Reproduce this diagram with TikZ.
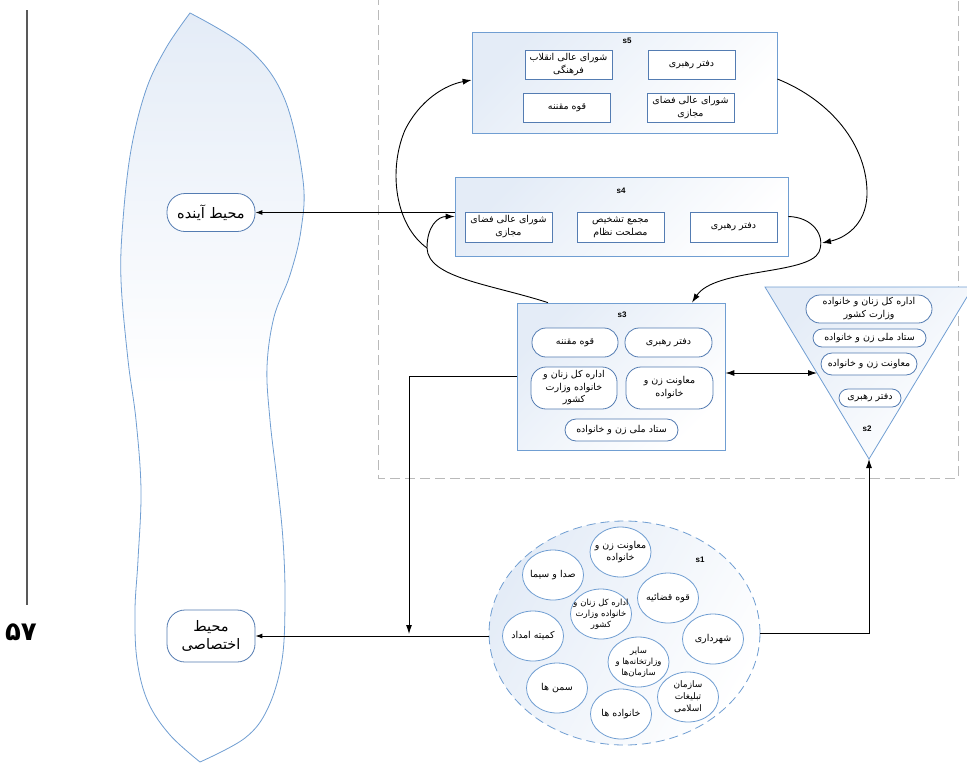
\documentclass[tikz,border=0pt]{standalone}
\usepackage{fontspec}
\usetikzlibrary{arrows.meta,shapes.geometric,calc}
\TeXXeTstate=1
\newfontfamily\fa[Script=Arabic]{DejaVu Sans}
\newfontfamily\lat{Liberation Sans}
\newcommand\ft[1]{{\fa\beginR #1\endR}}
\definecolor{bd}{RGB}{112,158,210}
\definecolor{ib}{RGB}{84,124,178}
\definecolor{gb}{RGB}{228,236,247}
\definecolor{dg}{RGB}{185,185,185}
\tikzset{
  grp/.style={draw=bd, line width=0.8pt, top color=gb, bottom color=white, shading angle=45, inner sep=0pt},
  lbl/.style={font=\lat\bfseries\fontsize{8}{9}\selectfont, inner sep=0pt},
  sq/.style={draw=ib, line width=0.8pt, fill=white, inner sep=0.5pt, align=center,
    font=\fontsize{9.5}{13}\selectfont, minimum width=87pt, minimum height=29pt},
  pill/.style={draw=ib, line width=0.8pt, fill=white, inner sep=0.5pt, align=center,
    font=\fontsize{9.5}{13}\selectfont, rounded corners=#1},
  circ/.style={ellipse, draw=bd, line width=0.8pt, fill=white, inner xsep=-10pt, inner ysep=-8pt, align=center,
    font=\fontsize{9.5}{11.5}\selectfont, minimum width=61pt, minimum height=50pt},
  envn/.style={draw=ib, line width=0.8pt, fill=white, inner sep=1pt, align=center,
    font=\fontsize{14.5}{18}\selectfont, rounded corners=18pt, minimum width=88pt},
  arr/.style={line width=0.9pt, -{Latex[length=9pt,width=6pt]}},
  sarr/.style={line width=0.9pt, -{Latex[length=7pt,width=5pt]}},
}
\begin{document}
\begin{tikzpicture}[x=1pt,y=-1pt]
\useasboundingbox (0,0) rectangle (967,764);
% dashed frame
\draw[dg, line width=0.8pt, dash pattern=on 10pt off 5pt] (378,-5) rectangle (958,478);
% left margin line and page number
\draw[black!65, line width=1.2pt] (27,10) -- (27,605);
\node[font=\fontsize{26}{28}\selectfont\bfseries, inner sep=0pt] (pg) at (21,632) {\ft{۵۷}};
% shoe shape
\path[draw=bd, line width=0.8pt, top color=gb, bottom color=white, middle color=white]
  plot[smooth, tension=0.6] coordinates {(190,13) (250,50) (285,100) (303,180) (301,230) (290,275) (274,317) (267,367) (270,420) (277,480) (283,540) (285,600) (282,660) (268,708) (245,738) (200,762)}
  -- plot[smooth, tension=0.6] coordinates {(200,762) (170,735) (148,702) (137,660) (135,610) (138,560) (141,490) (136,420) (128,360) (121,280) (123,220) (131,150) (146,90) (166,48) (190,13)}
  -- cycle;
\node[envn, minimum height=38pt] (fut) at (211,212.5) {\ft{محیط آینده}};
\node[envn, minimum height=52pt] (priv) at (211,636) {\ft{محیط}\\\ft{اختصاصی}};
% s5
\node[grp, minimum width=305pt, minimum height=101pt] (s5) at (624.5,82.5) {};
\node[lbl] (s5t) at (627,41) {s5};
\node[sq] (s5a) at (568.5,64.5) {\ft{شورای عالی انقلاب}\\\ft{فرهنگی}};
\node[sq] (s5b) at (691.5,64.5) {\ft{دفتر رهبری}};
\node[sq] (s5c) at (567,107.5) {\ft{قوه مقننه}};
\node[sq] (s5d) at (690.5,107.5) {\ft{شورای عالی فضای}\\\ft{مجازی}};
% s4
\node[grp, minimum width=333pt, minimum height=79pt] (s4) at (621.5,216.5) {};
\node[lbl] (s4t) at (621,191) {s4};
\node[sq, minimum height=30pt] (s4a) at (508.5,227) {\ft{شورای عالی فضای}\\\ft{مجازی}};
\node[sq, minimum height=30pt] (s4b) at (620.5,227) {\ft{مجمع تشخیص}\\\ft{مصلحت نظام}};
\node[sq, minimum height=30pt] (s4c) at (733.5,227) {\ft{دفتر رهبری}};
% s3
\node[grp, minimum width=208pt, minimum height=147pt] (s3) at (621,376.5) {};
\node[lbl] (s3t) at (622,315) {s3};
\node[pill=14pt, minimum width=86pt, minimum height=29pt] (s3a) at (575,342.5) {\ft{قوه مقننه}};
\node[pill=14pt, minimum width=87pt, minimum height=29pt] (s3b) at (668.5,342.5) {\ft{دفتر رهبری}};
\node[pill=15pt, minimum width=86pt, minimum height=42pt, inner ysep=-1pt, font=\fontsize{9.5}{12.5}\selectfont] (s3c) at (574,388) {\ft{اداره کل زنان و}\\\ft{خانواده وزارت}\\\ft{کشور}};
\node[pill=15pt, minimum width=87pt, minimum height=42pt] (s3d) at (669.5,388) {\ft{معاونت زن و}\\\ft{خانواده}};
\node[pill=11pt, minimum width=113pt, minimum height=22pt] (s3e) at (621.5,430) {\ft{ستاد ملی زن و خانواده}};
% s2 triangle
\coordinate (tA) at (765,287);
\coordinate (tB) at (973,287);
\coordinate (tC) at (869,459);
\path[grp] (tA) -- (tB) -- (tC) -- cycle;
\node[pill=14pt, minimum width=126pt, minimum height=28pt] (s2a) at (869,309) {\ft{اداره کل زنان و خانواده}\\\ft{وزارت کشور}};
\node[pill=9pt, minimum width=113pt, minimum height=18pt] (s2b) at (869.5,338) {\ft{ستاد ملی زن و خانواده}};
\node[pill=11pt, minimum width=96pt, minimum height=22pt] (s2c) at (869,364) {\ft{معاونت زن و خانواده}};
\node[pill=9pt, minimum width=62pt, minimum height=18pt] (s2d) at (870,398) {\ft{دفتر رهبری}};
\node[lbl] (s2t) at (867,429) {s2};
% s1
\node[ellipse, draw=bd, line width=0.8pt, dash pattern=on 9pt off 5pt, top color=gb, bottom color=white, shading angle=60,
  minimum width=271pt, minimum height=224pt, inner sep=0pt] (s1) at (624.5,633) {};
\node[lbl] (s1t) at (700,560) {s1};
\node[circ] (c1) at (620.5,552) {\ft{معاونت زن و}\\\ft{خانواده}};
\node[circ] (c2) at (553,575) {\ft{صدا و سیما}};
\node[circ] (c3) at (668,598) {\ft{قوه قضائیه}};
\node[circ, font=\fontsize{8.5}{11}\selectfont] (c4) at (601,614) {\ft{اداره کل زنان و}\\\ft{خانواده وزارت}\\\ft{کشور}};
\node[circ] (c5) at (533,636) {\ft{کمیته امداد}};
\node[circ] (c6) at (713,639) {\ft{شهرداری}};
\node[circ, font=\fontsize{8.5}{11}\selectfont] (c7) at (638.5,662) {\ft{سایر}\\\ft{وزارتخانه‌ها و}\\\ft{سازمان‌ها}};
\node[circ] (c8) at (557,688) {\ft{سمن ها}};
\node[circ, font=\fontsize{9}{12}\selectfont] (c9) at (688,697) {\ft{سازمان}\\\ft{تبلیغات}\\\ft{اسلامی}};
\node[circ] (c10) at (621,714) {\ft{خانواده ها}};
% connectors
\coordinate (j) at (427,248);
\coordinate (d) at (822,243);
\draw[sarr] (fut.east -| s4.west) -- (fut.east);
\draw[arr] ($(s3.north west)!0.15!(s3.north east)$) .. controls (490,284) and (428,278) .. (j)
  .. controls (427,226) and (438,216.5) .. (s4.west);
\draw[arr] (j) .. controls (395,225) and (388,170) .. (405,130) .. controls (420,100) and (445,85) .. ($(s5.west)+(0,-2.5)$);
\draw[arr] ($(s5.east)+(0,-3.5)$) .. controls (830,100) and (868,145) .. (867,195) .. controls (866,225) and (845,238) .. (d);
\draw[arr] (s4.east) .. controls (812,217) and (826,235) .. (819,252) .. controls (808,275) and (715,268) .. ($(s3.north west)!0.84!(s3.north east)$);
\draw[line width=0.9pt, {Latex[length=9pt,width=6pt]}-{Latex[length=9pt,width=6pt]}] ($(s3.east)+(0,-3.5)$) -- ($(tA)!0.5!(tC)$);
\coordinate (m) at (409,634);
\draw[arr] (s3.west) -- (s3.west -| m) -- (m);
\draw[sarr] (s1.west |- priv.east) -- (priv.east);
\draw[arr] (s1.east) -| (tC);
\end{tikzpicture}
\end{document}
